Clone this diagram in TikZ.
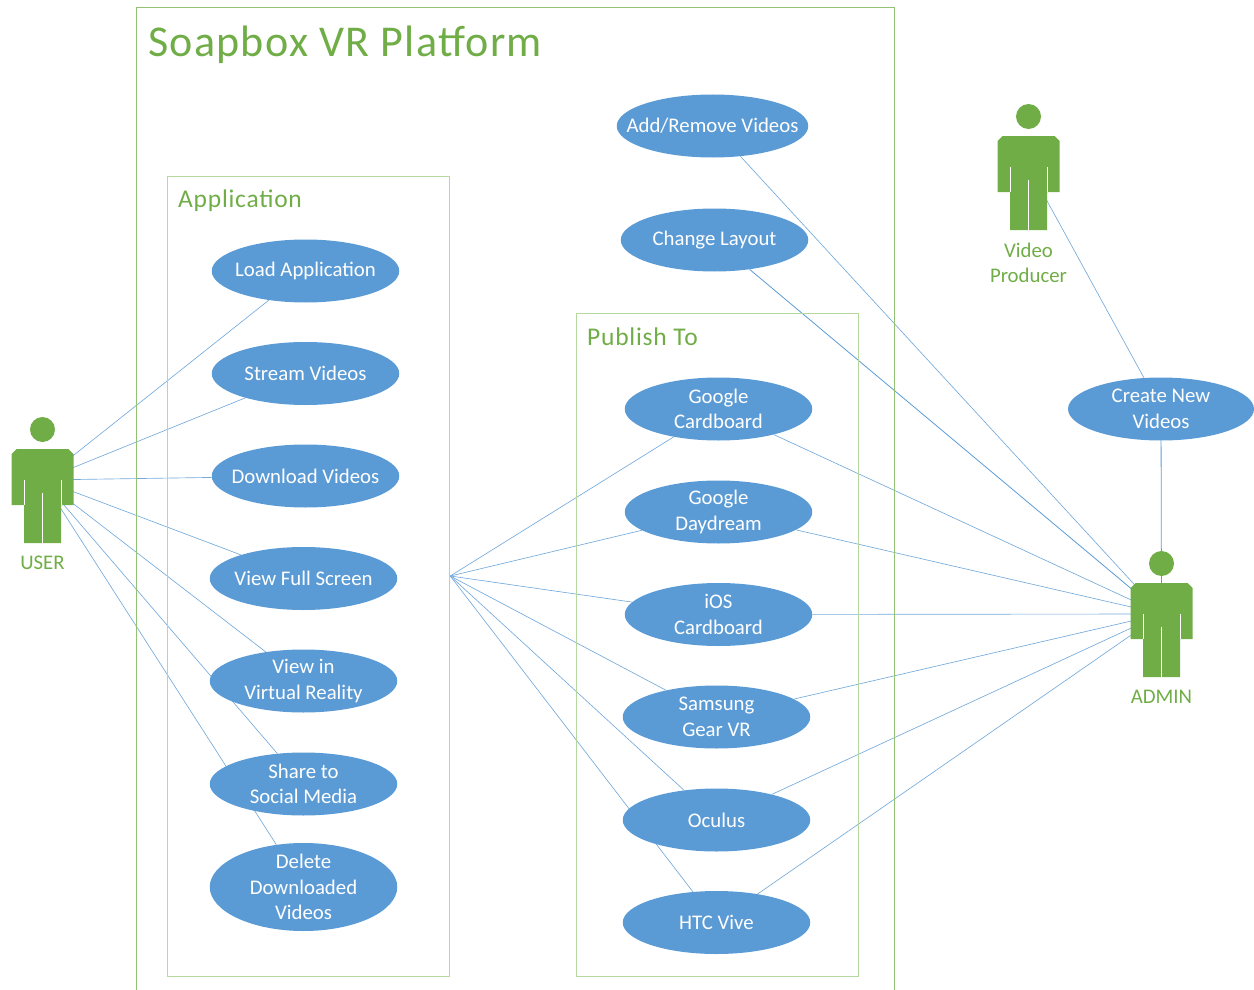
\documentclass[tikz,border=0pt]{standalone}
\usepackage{fontspec}
\setmainfont{Carlito}
\usepackage{xcolor}
\usetikzlibrary{positioning, shapes.geometric, backgrounds}
\definecolor{usecaseblue}{HTML}{5B9BD5}
\definecolor{actorgreen}{HTML}{70AD47}
\definecolor{boxgreen}{HTML}{B5D8A0}
\tikzset{
    usecase/.style={ellipse, fill=usecaseblue, text=white, minimum width=187.5, minimum height=63, inner xsep=-30pt, inner ysep=-25pt, align=center, font=\fontsize{20.8}{25.5}\selectfont},
    group/.style={rectangle, draw=boxgreen, line width=1pt, inner sep=0pt},
    link/.style={usecaseblue!85, line width=0.65pt},
    strong link/.style={usecaseblue, line width=0.8pt},
    actorlabel/.style={text=actorgreen, align=center, font=\fontsize{20.8}{25.5}\selectfont},
    grouptitle/.style={text=actorgreen, anchor=west, inner sep=0pt, font=\fontsize{25.5}{30}\selectfont\addfontfeature{LetterSpace=3}},
    actor/.pic={
        \fill[actorgreen] (0,-50.5) circle (12.5);
        \fill[actorgreen] (-31,-26) -- (-26,-31) -- (26,-31) -- (31,-26) -- (31,25) -- (18.5,25)
            -- (18.5,63) -- (-18.5,63) -- (-18.5,25) -- (-31,25) -- cycle;
        \draw[white, line width=0.3pt] (-18.5,0) -- (-18.5,25);
        \draw[white, line width=0.3pt] (18.5,0) -- (18.5,25);
        \draw[white, line width=0.3pt] (0,13) -- (0,63);
    }
}

\begin{document}
\begin{tikzpicture}[x=1pt, y=-1pt]
    \useasboundingbox (0,0) rectangle (1254,990);

    % Platform frame, open at the bottom
    \draw[actorgreen!75, line width=0.8pt] (136.5,990) -- (136.5,7.5) -- (894.5,7.5) -- (894.5,990);
    \node[grouptitle, font=\fontsize{44}{50}\selectfont\addfontfeature{LetterSpace=3}] (platformtitle) at (148,45) {Soapbox VR Platform};

    % Groups
    \node[group, minimum width=282.5, minimum height=800] (app) at (308.5,576) {};
    \node[group, minimum width=282.5, minimum height=663] (publish) at (717.5,644.5) {};
    \node[grouptitle] (apptitle) at (178,201) {Application};
    \node[grouptitle] (publishtitle) at (587,337) {Publish To};

    % Application use cases
    \node[usecase] (load) at (305.5,271) {Load Application};
    \node[usecase] (stream) at (305.5,373.5) {Stream Videos};
    \node[usecase] (download) at (305.5,476) {Download Videos};
    \node[usecase] (fullscreen) at (303.5,578.5) {View Full Screen};
    \node[usecase] (vr) at (303.5,681) {View in\\Virtual Reality};
    \node[usecase] (share) at (303.5,784) {Share to\\Social Media};
    \node[usecase, minimum height=88] (delete) at (303.5,887) {Delete\\Downloaded\\Videos};

    % Publish targets
    \node[usecase] (cardboard) at (718.5,409) {Google\\Cardboard};
    \node[usecase] (daydream) at (718.5,512) {Google\\Daydream};
    \node[usecase] (ios) at (718.5,614.5) {iOS\\Cardboard};
    \node[usecase] (samsung) at (716.5,717) {Samsung\\Gear VR};
    \node[usecase] (oculus) at (716.5,820) {Oculus};
    \node[usecase] (htc) at (716.5,922.5) {HTC Vive};

    % Admin use cases
    \node[usecase, minimum width=191.5] (addremove) at (712.5,126) {Add/Remove Videos};
    \node[usecase] (layout) at (714.5,240) {Change Layout};
    \node[usecase, minimum width=186] (create) at (1161,409) {Create New\\Videos};

    % Actors
    \coordinate (user) at (42.5,480);
    \coordinate (producer) at (1028.5,167);
    \coordinate (admin) at (1161.5,614);
    \pic at (user) {actor};
    \pic at (producer) {actor};
    \pic at (admin) {actor};
    \node[actorlabel] (userlabel) at (42.5,563) {USER};
    \node[actorlabel] (producerlabel) at (1028.5,263) {Video\\Producer};
    \node[actorlabel] (adminlabel) at (1161.5,697) {ADMIN};

    \begin{scope}[on background layer]
        % User links
        \draw[link] (user) -- (load);
        \draw[link] (user) -- (stream);
        \draw[link] (user) -- (download);
        \draw[link] (user) -- (fullscreen);
        \draw[link] (user) -- (vr);
        \draw[link] (user) -- (share);
        \draw[link] (user) -- (delete);

        % Application to publish targets
        \draw[link] (app.east) -- (cardboard);
        \draw[link] (app.east) -- (daydream);
        \draw[link] (app.east) -- (ios);
        \draw[link] (app.east) -- (samsung);
        \draw[link] (app.east) -- (oculus);
        \draw[link] (app.east) -- (htc);

        % Admin links
        \draw[link] (admin) -- (addremove);
        \draw[strong link] (admin) -- (layout);
        \draw[link] (admin) -- (cardboard);
        \draw[link] (admin) -- (daydream);
        \draw[link] (admin) -- (ios);
        \draw[link] (admin) -- (samsung);
        \draw[link] (admin) -- (oculus);
        \draw[link] (admin) -- (htc);
        \draw[strong link] (admin) -- (create);
        \draw[link] (producer) -- (create);
    \end{scope}
\end{tikzpicture}
\end{document}
